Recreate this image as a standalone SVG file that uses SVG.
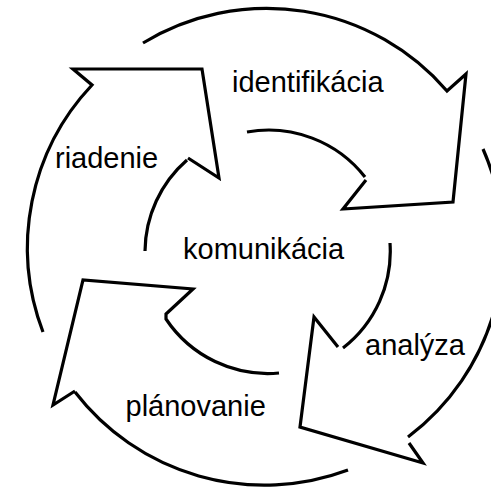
<svg xmlns="http://www.w3.org/2000/svg" width="491" height="487" viewBox="0 0 491 487">
  <style>
    .arrow { fill: none; stroke: #000; stroke-width: 3.2; stroke-linejoin: miter; stroke-linecap: butt; }
    .label { font-family: "Liberation Sans", Arial, sans-serif; font-size: 29px; fill: #000; }
  </style>
  <rect width="491" height="487" fill="#fff"/>
  <g id="identifikacia">
    <path class="arrow" d="M143,43 A238,238 0 0 1 447,91 L466,74 L453,202 L343,209 L366,180 M365,177 A122.5,122.5 0 0 0 247,132"/>
    <text class="label" x="232" y="92">identifikácia</text>
  </g>
  <g id="analyza">
    <path class="arrow" d="M390,243 A122.5,122.5 0 0 1 343,348 M338,347 L314,317 L300,427 L423,463 L409,443 M408,437 A239.5,239.5 0 0 0 483,149"/>
    <text class="label" x="365" y="355">analýza</text>
  </g>
  <g id="planovanie">
    <path class="arrow" d="M279,373 A122.5,122.5 0 0 1 166,319 L166,314 L193,289 L83,280 L53,405 L75,391 M75,392 A239,239 0 0 0 348,470"/>
    <text class="label" x="125.5" y="415.5">plánovanie</text>
  </g>
  <g id="riadenie">
    <path class="arrow" d="M145,251 A122.5,122.5 0 0 1 187,160 M188,158 L219,178 L202,69 L73,69 L92,85 A237,237 0 0 0 43,332"/>
    <text class="label" x="55" y="168">riadenie</text>
  </g>
  <g id="komunikacia">
    <text class="label" x="183" y="259">komunikácia</text>
  </g>
</svg>
